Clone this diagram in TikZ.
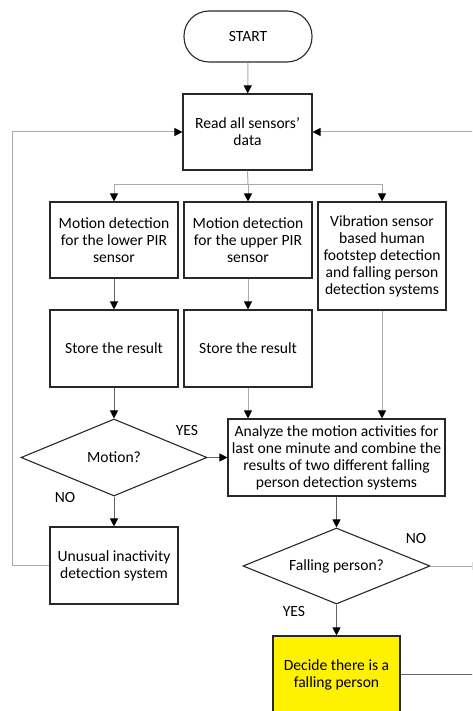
\documentclass[tikz,border=0pt]{standalone}
\usepackage{fontspec}
\setmainfont{Carlito}
\usetikzlibrary{arrows.meta,shapes.geometric}
\definecolor{lnlight}{RGB}{170,170,170}
\definecolor{lndark}{RGB}{100,100,100}
\definecolor{bord}{RGB}{40,40,40}
\tikzset{
  box/.style={draw=bord, line width=1.1pt, align=center, inner sep=0pt,
    font=\fontsize{15.6}{17}\selectfont, text=black},
  dia/.style={draw=bord, line width=1.1pt, diamond, align=center, inner sep=0pt,
    font=\fontsize{15.6}{17}\selectfont},
  arr/.style={draw=lnlight, line width=1pt, -{Triangle[length=8pt,width=8pt,color=black]}},
  arrd/.style={draw=lndark, line width=1pt, -{Triangle[length=8pt,width=8pt,color=black]}},
  ln/.style={draw=lnlight, line width=1pt},
  lbl/.style={font=\fontsize{15.6}{17}\selectfont, inner sep=0pt}
}
\begin{document}
\begin{tikzpicture}[x=1pt,y=-1pt]
\useasboundingbox (0,0) rectangle (472,711);
\clip (0,0) rectangle (472,711);
\node[box, rounded corners=25pt, minimum width=128pt, minimum height=51pt] (start) at (248,36.5) {START};
\node[box, minimum width=129pt, minimum height=76pt] (read) at (247.5,132) {Read all sensors’\\data};
\node[box, minimum width=128pt, minimum height=76pt] (m1) at (114,240) {Motion detection\\for the lower PIR\\sensor};
\node[box, minimum width=128pt, minimum height=76pt] (m2) at (248,240) {Motion detection\\for the upper PIR\\sensor};
\node[box, minimum width=128pt, minimum height=108pt] (vib) at (382,256) {Vibration sensor\\based human\\footstep detection\\and falling person\\detection systems};
\node[box, minimum width=128pt, minimum height=77pt] (s1) at (114,348.5) {Store the result};
\node[box, minimum width=128pt, minimum height=77pt] (s2) at (248,348.5) {Store the result};
\node[dia, minimum width=186pt, minimum height=77pt, aspect=2.4] (mot) at (114,457.5) {Motion?};
\node[box, minimum width=217pt, minimum height=77pt] (ana) at (336.5,457.5) {Analyze the motion activities for\\last one minute and combine the\\results of two different falling\\person detection systems};
\node[box, minimum width=128pt, minimum height=77pt] (un) at (114,565.5) {Unusual inactivity\\detection system};
\node[dia, minimum width=187pt, minimum height=76pt, aspect=2.45] (fall) at (336.5,566) {Falling person?};
\node[box, fill=yellow, minimum width=127pt, minimum height=77pt] (dec) at (336.5,674.5) {Decide there is a\\falling person};
\node[lbl] (yes1) at (187,430) {YES};
\node[lbl] (no1) at (65,497) {NO};
\node[lbl] (no2) at (416,538) {NO};
\node[lbl] (yes2) at (294,611) {YES};
\coordinate (br) at (248,185);
\coordinate (lt) at (12,132);
\coordinate (lb) at (12,565.5);
\coordinate (rt) at (480,132);
\coordinate (rf) at (480,566);
\coordinate (ry) at (480,674);
% connectors
\draw[arr] (start) -- (read);
\draw[ln] (read.south) -- (br);
\draw[arr] (br) -| (m1.north);
\draw[arr] (br) -- (m2.north);
\draw[arr] (br) -| (vib.north);
\draw[arrd] (m1) -- (s1);
\draw[arr] (m2) -- (s2);
\draw[arrd] (s1) -- (mot);
\draw[arr] (s2.south) -- (s2.south |- ana.north);
\draw[arr] (vib.south) -- (vib.south |- ana.north);
\draw[arrd] (mot.east) -- (ana.west);
\draw[arrd] (mot) -- (un);
\draw[arr] (un.west) -- (lb) -- (lt) -- (read.west);
\draw[arr] (rt) -- (read.east);
\draw[arrd] (ana) -- (fall);
\draw[arr] (fall.east) -- (rf);
\draw[arrd] (fall) -- (dec);
\draw[ln, draw=lndark] (dec.east |- ry) -- (ry);
\end{tikzpicture}
\end{document}
